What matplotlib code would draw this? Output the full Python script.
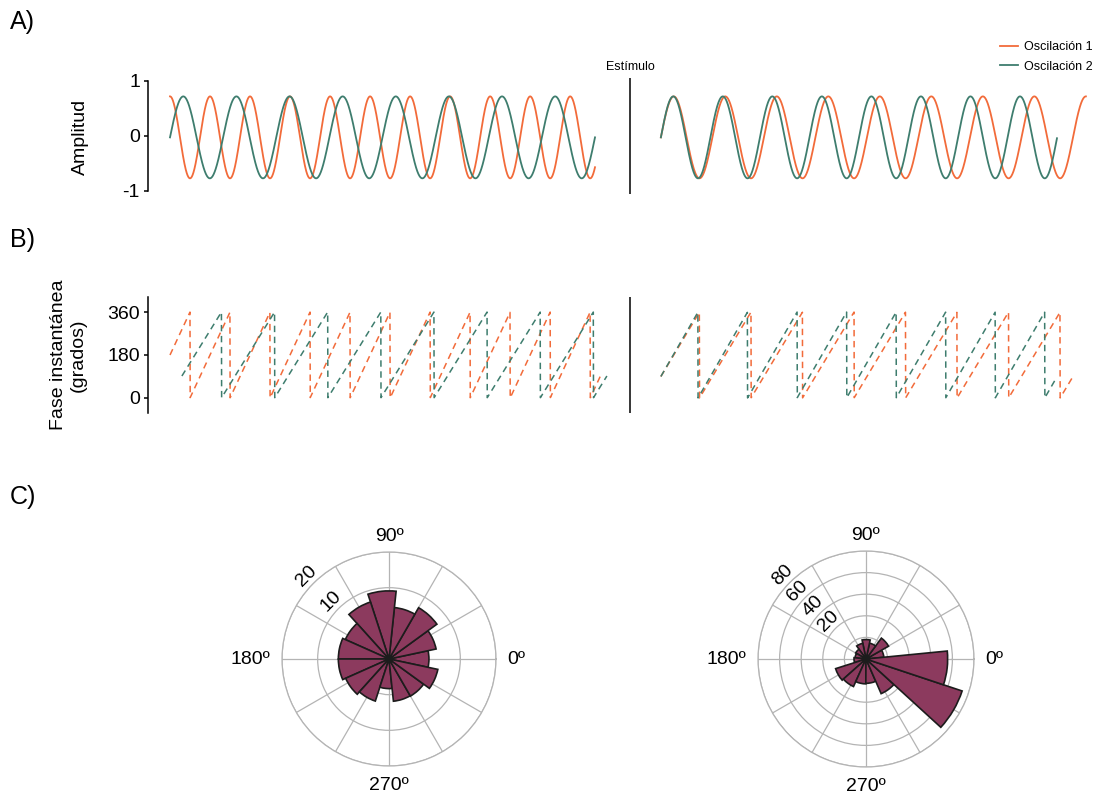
import numpy as np
import matplotlib
matplotlib.use("Agg")
import matplotlib.pyplot as plt
from matplotlib.transforms import ScaledTranslation

plt.rcParams['font.family'] = ['Liberation Sans', 'DejaVu Sans']
plt.rcParams['axes.unicode_minus'] = False

# ---------------- data ----------------
series_names = ['Oscilación 1', 'Oscilación 2']
series_colors = ['#F26B3A', '#3E7D6E']
rose_color = '#8C3A5E'

amplitude = 0.745
baseline = -0.025
# before the stimulus: frequency (Hz), starting phase of the sine (deg), duration (s)
pre_freq = [10.62, 8.0]
pre_phase = [90, 0]
pre_dur = [1.0, 1.0]
# after the stimulus
post_freq = [8.25, 8.58]
post_phase = [0, 0]
post_dur = [1.0, 0.932]

# instantaneous phase traces: onset (s), starting phase (deg, 0 = trough), end (s)
iphase_pre_t0 = [0.0, 0.028]
iphase_pre_start = [180, 92]
iphase_pre_end = [1.014, 1.028]
iphase_post_t0 = [0.0, 0.0]
iphase_post_start = [90, 90]
iphase_post_end = [0.967, 0.927]

t_pre = 0.0      # start of the pre-stimulus window (s)
t_stim = 1.082   # stimulus onset marker
t_post = 1.155   # start of the post-stimulus window

amp_ticks = [-1, 0, 1]
phase_ticks = [0, 180, 360]

# phase histograms (bin centre in deg, bar radius)
rose_width = 24
rose1_theta = [0, 24, 48, 72, 96, 120, 144, 168, 192, 216, 240, 264, 288, 312, 336]
rose1_r = [1.2, 3.5, 6.6, 4.5, 9.1, 6.8, 3.4, 4.2, 4.2, 3.3, 2.4, -1.7, 1.9, 2.0, 4.0]
rose1_lim = (-10, 20)
rose1_ticks = [0, 10, 20]
rose2_theta = [17.6, 41.6, 65.6, 89.6, 113.6, 137.6, 161.6, 185.6, 209.6, 233.6,
               257.6, 281.6, 305.6, 329.6, 353.6]
rose2_r = [-3.4, 4.0, -5.0, -2.0, -5.2, -8.9, -9.8, -8.9, 9.5, 8.0, 3.0, 2.5, 15.0, 73.8, 55.6]
rose2_lim = (-20, 80)
rose2_ticks = [0, 20, 40, 60, 80]
theta_ticks = [0, 30, 60, 90, 120, 150, 180, 210, 240, 270, 300, 330]
theta_labels = ['0º', '', '', '90º', '', '', '180º', '', '', '270º', '', '']

# ---------------- figure ----------------
W, H = 1097, 799
fig = plt.figure(figsize=(W / 100, H / 100), dpi=100)


def box(x0, y0, x1, y1):
    return [x0 / W, 1 - y1 / H, (x1 - x0) / W, (y1 - y0) / H]


dt = 0.0005
xlim = ((148 - 170) / 425, (1097 - 170) / 425)


def style_line_axes(ax):
    for s in ('top', 'right', 'bottom'):
        ax.spines[s].set_visible(False)
    ax.spines['left'].set_linewidth(1.1)
    ax.set_xticks([])
    ax.tick_params(axis='y', length=2.8, width=1.1, labelsize=14, pad=3)
    ax.patch.set_visible(False)
    ax.set_xlim(*xlim)
    ax.axvline(t_stim, color='black', lw=1.1)


# A) signals
ax_a = fig.add_axes(box(148, 77.7, 1097, 194))
style_line_axes(ax_a)
legend_handles = []
for i in range(2):
    t = np.arange(0, pre_dur[i] + dt / 2, dt)
    y = baseline + amplitude * np.sin(2 * np.pi * pre_freq[i] * t + np.deg2rad(pre_phase[i]))
    line, = ax_a.plot(t_pre + t, y, color=series_colors[i], lw=1.3)
    legend_handles.append(line)
    t = np.arange(0, post_dur[i] + dt / 2, dt)
    y = baseline + amplitude * np.sin(2 * np.pi * post_freq[i] * t + np.deg2rad(post_phase[i]))
    ax_a.plot(t_post + t, y, color=series_colors[i], lw=1.3)
ax_a.set_ylim(-1.055, 1.06)
ax_a.spines['left'].set_bounds(-1, 1)
ax_a.set_yticks(amp_ticks)
ax_a.set_yticklabels([str(v) for v in amp_ticks])

# B) instantaneous phase
ax_b = fig.add_axes(box(148, 297, 1097, 413))
style_line_axes(ax_b)
for i in range(2):
    t = np.arange(iphase_pre_t0[i], iphase_pre_end[i] + dt / 2, dt)
    ph = (iphase_pre_start[i] + 360 * pre_freq[i] * (t - iphase_pre_t0[i])) % 360
    ax_b.plot(t_pre + t, ph, color=series_colors[i], lw=1.1, dashes=(4.2, 3.0))
    t = np.arange(iphase_post_t0[i], iphase_post_end[i] + dt / 2, dt)
    ph = (iphase_post_start[i] + 360 * post_freq[i] * (t - iphase_post_t0[i])) % 360
    ax_b.plot(t_post + t, ph, color=series_colors[i], lw=1.1, dashes=(4.2, 3.0))
ax_b.set_ylim(-63, 423)
ax_b.set_yticks(phase_ticks)

# texts
fig.text(630 / W, 1 - 67 / H, 'Estímulo', ha='center', va='center', fontsize=9)
fig.text(80 / W, 1 - 137 / H, 'Amplitud', ha='center', va='center', rotation=90, fontsize=14)
fig.text(68 / W, 1 - 355 / H, 'Fase instantánea\n(grados)', ha='center', va='center',
         rotation=90, fontsize=14, multialignment='center')
for lab, y in (('A)', 22), ('B)', 240), ('C)', 497)):
    fig.text(10 / W, 1 - y / H, lab, ha='left', va='center', fontsize=18)

fig.legend(legend_handles, series_names, loc='upper left',
           bbox_to_anchor=(1000 / W, 1 - 41 / H), frameon=False, fontsize=9,
           handlelength=1.4, handletextpad=0.5, borderpad=0, borderaxespad=0,
           labelspacing=0.6)

# C) phase histograms
label_shift = ScaledTranslation(-7.1 / 100, 7.1 / 100, fig.dpi_scale_trans)
theta_align = {0: ('left', 'center'), 90: ('center', 'baseline'),
               180: ('right', 'center'), 270: ('center', 'top')}


def rose(ax, theta, r, lim, ticks):
    ax.set_axisbelow(True)
    ax.bar(np.deg2rad(theta), np.array(r) - lim[0], width=np.deg2rad(rose_width),
           bottom=lim[0], color=rose_color, edgecolor='#1c1c1c', linewidth=1.2)
    ax.set_ylim(*lim)
    ax.set_yticks(ticks)
    ax.set_yticklabels([''] * len(ticks))
    ax.set_thetagrids(theta_ticks, theta_labels)
    ax.tick_params(axis='x', labelsize=14, pad=-2.4)
    for deg, lab in zip(theta_ticks, ax.get_xticklabels()):
        if deg in theta_align:
            ha, va = theta_align[deg]
            lab.set_ha(ha)
            lab.set_va(va)
    for v in ticks[1:]:
        ax.text(np.deg2rad(135), v, str(v), rotation=45, ha='center', va='center',
                fontsize=14, transform=ax.transData + label_shift)
    ax.grid(color='#b4b4b4', lw=0.9)
    ax.spines['polar'].set_color('#b4b4b4')
    ax.spines['polar'].set_linewidth(0.9)


ax_c1 = fig.add_axes(box(389 - 107, 659 - 107, 389 + 107, 659 + 107), projection='polar')
rose(ax_c1, rose1_theta, rose1_r, rose1_lim, rose1_ticks)
ax_c2 = fig.add_axes(box(866 - 108, 659 - 108, 866 + 108, 659 + 108), projection='polar')
rose(ax_c2, rose2_theta, rose2_r, rose2_lim, rose2_ticks)

fig.savefig('out.png', dpi=100)
